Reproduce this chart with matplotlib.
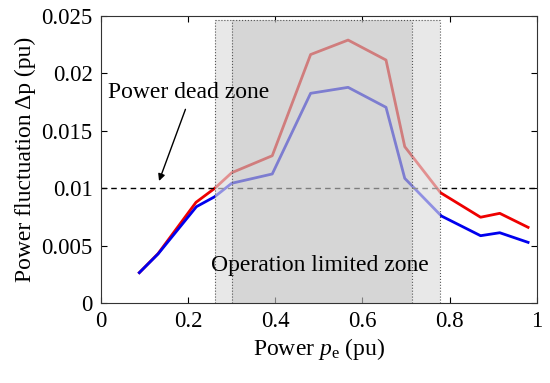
import matplotlib
matplotlib.use("Agg")
import matplotlib.pyplot as plt

plt.rcParams['font.family'] = ['Liberation Serif', 'DejaVu Serif']
plt.rcParams['mathtext.fontset'] = 'custom'
plt.rcParams['mathtext.it'] = 'Liberation Serif:italic'
plt.rcParams['mathtext.rm'] = 'Liberation Serif'

# data
pe_red = [0.088, 0.131, 0.218, 0.261, 0.300, 0.393, 0.481, 0.567, 0.654, 0.697, 0.779, 0.871, 0.915, 0.980]
dp_red = [0.00264, 0.00430, 0.00877, 0.00999, 0.01135, 0.01283, 0.02165, 0.02291, 0.02117, 0.01362, 0.00961, 0.00747, 0.00781, 0.00659]
pe_blue = [0.088, 0.131, 0.219, 0.261, 0.300, 0.393, 0.481, 0.567, 0.654, 0.697, 0.781, 0.871, 0.915, 0.980]
dp_blue = [0.00264, 0.00427, 0.00839, 0.00926, 0.01043, 0.01124, 0.01827, 0.01879, 0.01705, 0.01086, 0.00758, 0.00586, 0.00612, 0.00528]
dead_zone = 0.01
outer_zone = [0.262, 0.779]
inner_zone = [0.300, 0.714]
zone_top = 0.0247
xticks = [0, 0.2, 0.4, 0.6, 0.8, 1]
xticklabels = ['0', '0.2', '0.4', '0.6', '0.8', '1']
yticks = [0, 0.005, 0.01, 0.015, 0.02, 0.025]
yticklabels = ['0', '0.005', '0.01', '0.015', '0.02', '0.025']

fig = plt.figure(figsize=(5.5, 3.83), dpi=100)
ax = fig.add_axes([0.1836, 0.209, 0.7924, 0.749])

ax.plot(pe_red, dp_red, color='#ee0000', lw=2, zorder=2)
ax.plot(pe_blue, dp_blue, color='#0000ee', lw=2, zorder=2)
ax.plot([0, 1], [dead_zone, dead_zone], color='black', lw=1, ls=(0, (4, 3)), zorder=2)

# shaded zones drawn over the lines
ax.fill_between([outer_zone[0], inner_zone[0]], 0, zone_top, color='#dcdcdc', alpha=0.66, lw=0, zorder=3)
ax.fill_between([inner_zone[1], outer_zone[1]], 0, zone_top, color='#dcdcdc', alpha=0.66, lw=0, zorder=3)
ax.fill_between([inner_zone[0], inner_zone[1]], 0, zone_top, color='#c1c1c1', alpha=0.65, lw=0, zorder=3)
for xv in [outer_zone[0], inner_zone[0], inner_zone[1], outer_zone[1]]:
    ax.plot([xv, xv], [0, zone_top], color='#555555', lw=0.8, ls=':', zorder=4)
ax.plot(outer_zone, [zone_top, zone_top], color='#555555', lw=0.8, ls=':', zorder=4)

ax.text(0.015, 0.0183, 'Power dead zone', fontsize=17, ha='left', va='center', zorder=5)
ax.annotate('', xy=(0.131, 0.0104), xytext=(0.196, 0.0171),
            arrowprops=dict(arrowstyle='-|>', color='black', lw=1, mutation_scale=10), zorder=5)
ax.text(0.502, 0.0033, 'Operation limited zone', fontsize=17, ha='center', va='center', zorder=5)

ax.set_xlim(0, 1)
ax.set_ylim(0, 0.025)
ax.set_xticks(xticks)
ax.set_xticklabels(xticklabels)
ax.set_yticks(yticks)
ax.set_yticklabels(yticklabels)
ax.tick_params(direction='in', top=True, right=True, labelsize=16.5, length=4, width=0.8, pad=6)
for s in ax.spines.values():
    s.set_linewidth(0.8)
    s.set_color('#333333')
    s.set_zorder(6)

ax.set_xlabel(r'Power $p_{\mathrm{e}}$ (pu)', fontsize=17, labelpad=3)
ax.set_ylabel('Power fluctuation Δp (pu)', fontsize=17, labelpad=4)

fig.savefig('out.png', dpi=100)
